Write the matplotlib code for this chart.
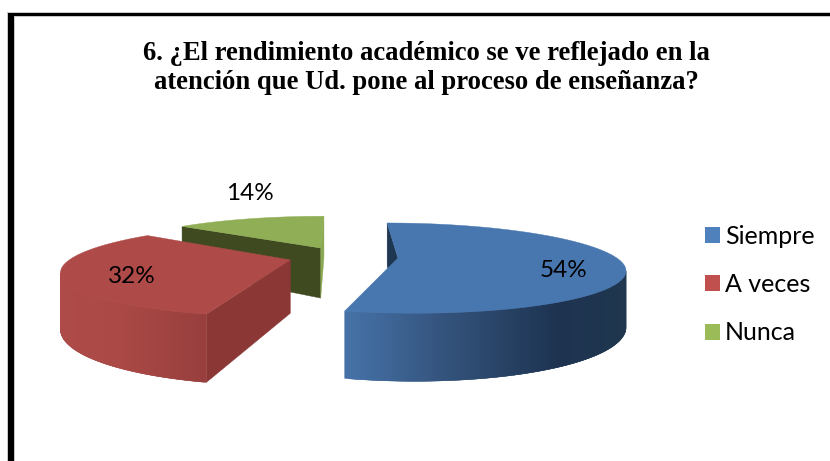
import numpy as np
import matplotlib
matplotlib.use('Agg')
import matplotlib.pyplot as plt
from matplotlib.patches import Polygon, Patch, Rectangle

# chart data
title = '6. ¿El rendimiento académico se ve reflejado en la\natención que Ud. pone al proceso de enseñanza?'
categories = ['Siempre', 'A veces', 'Nunca']
percent = [54, 32, 14]
top_colors = ['#4877b0', '#ae4b48', '#8fae55']
key_colors = ['#4f81bd', '#c0504d', '#9bbb59']
label_xy = [(564, 270), (132, 276), (250, 193)]

# camera for the tilted pie, fitted on the picture (pixels)
xv, yv, focal = 339.0, 66.0, 1032.0
cx, cw = 0.022, 5.41
rx, rw = 1.14, 1.2
explode = 0.287
thick = 0.275


def project(x, w, bottom=False):
    k = (1 + thick) if bottom else 1.0
    return xv + x * focal / w, yv + k * focal / w


def wedge_ground(start, end, n=240):
    mid = np.radians((start + end) / 2)
    ax0 = cx + explode * np.sin(mid)
    aw0 = cw + explode * np.cos(mid)
    t = np.radians(np.linspace(start, end, n))
    return ax0, aw0, t, ax0 + rx * np.sin(t), aw0 + rw * np.cos(t)


def face(ax, pts_ground, color, z):
    top_pts = [project(x, w) for x, w in pts_ground]
    low_pts = [project(x, w, True) for x, w in pts_ground[::-1]]
    ax.add_patch(Polygon(top_pts + low_pts, closed=True, fc=color, ec=color, lw=0.3, zorder=z))


def side(px, pw, qx, qw, x, w):
    return (qx - px) * (w - pw) - (qw - pw) * (x - px)


def cut_visible(ax0, aw0, ex, ew, mx, mw):
    # the camera sits at x=0, w=0; the face shows if it is across the edge from the slice
    return side(ax0, aw0, ex, ew, 0, 0) * side(ax0, aw0, ex, ew, mx, mw) < 0


def draw_slice(ax, start, end, top, start_face, end_face, wall_x, wall_colors, z):
    ax0, aw0, t, xs, ws = wedge_ground(start, end)
    mx, mw = xs[len(xs) // 2], ws[len(ws) // 2]
    if cut_visible(ax0, aw0, xs[0], ws[0], mx, mw):
        face(ax, [(ax0, aw0), (xs[0], ws[0])], start_face, z)
    if cut_visible(ax0, aw0, xs[-1], ws[-1], mx, mw):
        face(ax, [(ax0, aw0), (xs[-1], ws[-1])], end_face, z + 0.1)
    # outer wall, cut in strips for the shading, only the part facing the camera
    rgb = np.array([matplotlib.colors.to_rgb(c) for c in wall_colors])
    facing = (np.sin(t) / rx) * xs + (np.cos(t) / rw) * ws < 0
    for i in range(len(xs) - 2):
        if not (facing[i] and facing[i + 1]):
            continue
        sx = project(xs[i], ws[i])[0]
        col = [np.interp(sx, wall_x, rgb[:, j]) for j in range(3)]
        # each strip runs under the next one so no seams show
        j = i + 2 if facing[i + 2] else i + 1
        face(ax, [(xs[i], ws[i]), (xs[i + 1], ws[i + 1]), (xs[j], ws[j])], col, z + 0.2)
    pts = [project(ax0, aw0)] + [project(a, b) for a, b in zip(xs, ws)]
    ax.add_patch(Polygon(pts, closed=True, fc=top, ec=top, lw=0.3, zorder=z + 0.3))


fig = plt.figure(figsize=(8.30, 4.61), dpi=100)
ax = fig.add_axes([0, 0, 1, 1])
ax.set_xlim(0, 830)
ax.set_ylim(461, 0)
ax.axis('off')

# the black frame only shows on the top and left
ax.add_patch(Rectangle((7, 12.5), 830, 5, fc='#c8c8c8', ec='none', zorder=1))
ax.add_patch(Rectangle((7, 12.5), 7.5, 460, fc='#c8c8c8', ec='none', zorder=1))
ax.add_patch(Rectangle((8, 13), 830, 3.3, fc='black', ec='none', zorder=2))
ax.add_patch(Rectangle((8, 13), 5.5, 460, fc='black', ec='none', zorder=2))

edges = np.cumsum([0] + percent) * 3.6
# green is furthest back, red goes last because it covers green
draw_slice(ax, edges[2], edges[3], top_colors[2], '#3f4a21', '#8aa851',
           [180, 330], ['#8aa851', '#8aa851'], 5)
draw_slice(ax, edges[0], edges[1], top_colors[0], '#1f3650', '#1f3650',
           [344, 440, 560, 630], ['#4774aa', '#35557f', '#1d3350', '#20374f'], 6)
draw_slice(ax, edges[1], edges[2], top_colors[1], '#8a3735', '#8a3735',
           [60, 120, 205], ['#ae4b48', '#aa4946', '#983f3d'], 7)

ax.text(426, 68, title, ha='center', va='center', family='Liberation Serif',
        weight='bold', fontsize=19.2, linespacing=1.26, color='black')

for p, (lx, ly) in zip(percent, label_xy):
    ax.text(lx, ly, f'{p}%', ha='center', va='center', family='Lato',
            fontsize=17.5, color='black', zorder=10)

handles = [Patch(fc=c, ec='none') for c in key_colors]
ax.legend(handles, categories, loc='upper left', bbox_to_anchor=(694.5 / 830, 1 - 214.5 / 461),
          frameon=False, prop={'family': 'Lato', 'size': 18}, handlelength=0.6,
          handleheight=0.6, handletextpad=0.22, labelspacing=1.02, borderpad=0.4,
          borderaxespad=0)

fig.savefig('out.png', dpi=100)
